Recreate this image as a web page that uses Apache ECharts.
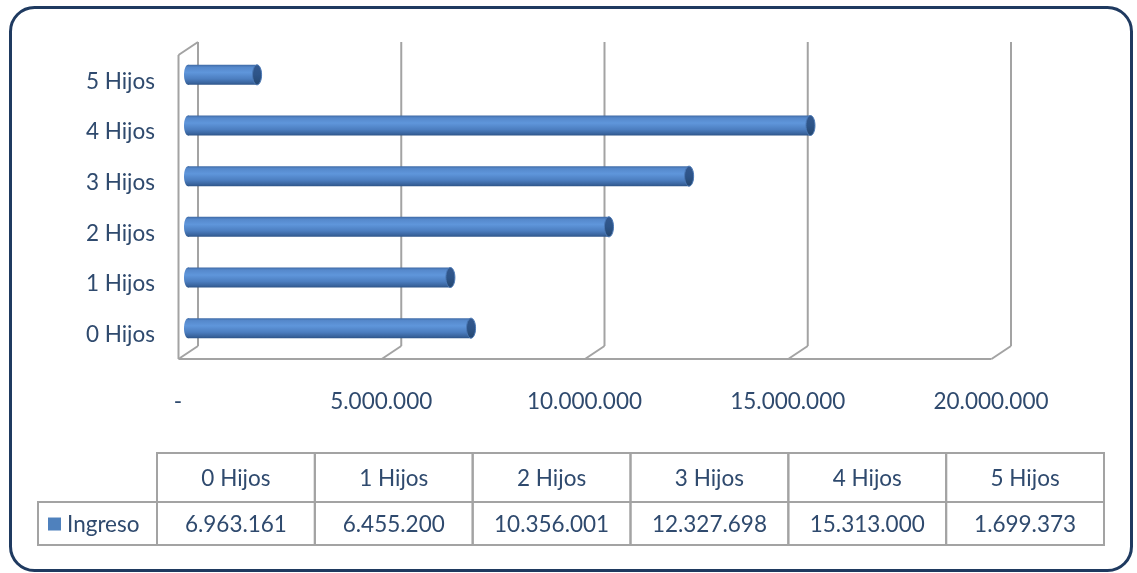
<!DOCTYPE html>
<html>
<head>
<meta charset="utf-8">
<script src="https://cdn.jsdelivr.net/npm/echarts@6/dist/echarts.min.js"></script>
<style>
  html, body { margin: 0; padding: 0; background: #ffffff; }
  #chart { width: 1137px; height: 573px; }
</style>
</head>
<body>
<div id="chart"></div>
<script>
// Income by number of children
const categories = ['0 Hijos', '1 Hijos', '2 Hijos', '3 Hijos', '4 Hijos', '5 Hijos'];
const seriesName = 'Ingreso';
const ingreso = [6963161, 6455200, 10356001, 12327698, 15313000, 1699373];
const xTicks = [0, 5000000, 10000000, 15000000, 20000000];

const TEXT = '#2f4a6e';
const WALL = '#a3a3a3';
const FONT = 'Lato, "Open Sans", sans-serif';
const FS = 22.5;
const DEPTH_X = -19.5;   // front edge of the floor relative to the back wall
const DEPTH_Y = 13;
const BAR_DX = -10;      // bars sit half way into the depth
const BAR_DY = 7.5;
const BAR_R = 10;

function fmt(v) {
  return v === 0 ? '-' : String(v).replace(/\B(?=(\d{3})+(?!\d))/g, '.');
}

const chart = echarts.init(document.getElementById('chart'), null, { renderer: 'canvas' });

// back wall grid lines, floor diagonals and left wall
function renderWalls(params, api) {
  const cs = params.coordSys;
  const v = api.value(0);
  const x = api.coord([v, 0])[0];
  const top = cs.y, bottom = cs.y + cs.height;
  const style = { stroke: WALL, lineWidth: 2, fill: null };
  const children = [
    { type: 'line', shape: { x1: x, y1: top, x2: x, y2: bottom }, style },
    { type: 'line', shape: { x1: x, y1: bottom, x2: x + DEPTH_X, y2: bottom + DEPTH_Y }, style }
  ];
  if (params.dataIndex === 0) {
    const xEnd = api.coord([xTicks[xTicks.length - 1], 0])[0];
    children.push(
      { type: 'line', shape: { x1: x + DEPTH_X, y1: top + DEPTH_Y, x2: x + DEPTH_X, y2: bottom + DEPTH_Y }, style },
      { type: 'line', shape: { x1: x + DEPTH_X, y1: top + DEPTH_Y, x2: x, y2: top }, style },
      { type: 'line', shape: { x1: x + DEPTH_X, y1: bottom + DEPTH_Y, x2: xEnd + DEPTH_X, y2: bottom + DEPTH_Y }, style }
    );
  }
  return { type: 'group', children };
}

// cylinder bars
function renderBar(params, api) {
  const v = api.value(0);
  const idx = api.value(1);
  const p0 = api.coord([0, idx]);
  const p1 = api.coord([v, idx]);
  const x0 = p0[0] + BAR_DX, x1 = p1[0] + BAR_DX, cy = p0[1] + BAR_DY;
  const body = new echarts.graphic.LinearGradient(0, 0, 0, 1, [
    { offset: 0, color: '#3f6aa5' },
    { offset: 0.12, color: '#5588cb' },
    { offset: 0.38, color: '#5f96db' },
    { offset: 0.7, color: '#4c7ec0' },
    { offset: 0.9, color: '#3a659f' },
    { offset: 1, color: '#2d5488' }
  ]);
  const cap = new echarts.graphic.LinearGradient(0, 0, 0, 1, [
    { offset: 0, color: '#34598f' },
    { offset: 0.5, color: '#2d5488' },
    { offset: 1, color: '#24466f' }
  ]);
  return {
    type: 'group',
    children: [
      { type: 'ellipse', shape: { cx: x0, cy: cy, rx: 4, ry: BAR_R }, style: { fill: body } },
      { type: 'rect', shape: { x: x0, y: cy - BAR_R, width: Math.max(0, x1 - x0), height: BAR_R * 2 }, style: { fill: body } },
      { type: 'ellipse', shape: { cx: x1, cy: cy, rx: 4.5, ry: BAR_R }, style: { fill: cap, stroke: '#4b79b6', lineWidth: 1 } }
    ]
  };
}

// data table below the chart
function renderTable(params, api) {
  const cs = params.coordSys;
  const i = api.value(0);
  const cx = api.coord([i, 0])[0];
  const w = api.size([1, 0])[0];
  const left = cx - w / 2;
  const headH = cs.height * 0.533;
  const rowTop = cs.y + headH;
  const rowH = cs.height - headH;
  const border = { stroke: WALL, lineWidth: 2, fill: null };
  const txt = (x, y, text) => ({
    type: 'text', x: x, y: y,
    style: { text: text, fill: TEXT, font: FS + 'px ' + FONT, align: 'center', verticalAlign: 'middle' }
  });
  const children = [
    { type: 'rect', shape: { x: left, y: cs.y, width: w, height: headH }, style: border },
    { type: 'rect', shape: { x: left, y: rowTop, width: w, height: rowH }, style: border },
    txt(cx, cs.y + headH / 2 + 1, categories[i]),
    txt(cx, rowTop + rowH / 2 + 1, fmt(api.value(1)))
  ];
  if (params.dataIndex === 0) {
    const legW = 119;
    children.push(
      { type: 'rect', shape: { x: left - legW, y: rowTop, width: legW, height: rowH }, style: border },
      { type: 'rect', shape: { x: left - legW + 10, y: rowTop + rowH / 2 - 6, width: 13, height: 13 }, style: { fill: '#4f81bd' } },
      { type: 'text', x: left - legW + 29, y: rowTop + rowH / 2 + 1,
        style: { text: seriesName, fill: TEXT, font: FS + 'px ' + FONT, align: 'left', verticalAlign: 'middle' } }
    );
  }
  return { type: 'group', children };
}

chart.setOption({
  animation: false,
  backgroundColor: '#ffffff',
  graphic: [{
    type: 'rect', left: 9, top: 6, z: -10,
    shape: { width: 1121, height: 563, r: 24 },
    style: { fill: '#ffffff', stroke: '#1f3a60', lineWidth: 3 }
  }],
  grid: [
    { left: 198, top: 42, width: 813, height: 304 },
    { left: 157, top: 453, width: 947, height: 92 }
  ],
  xAxis: [
    {
      type: 'value', gridIndex: 0, min: 0, max: 20000000, interval: 5000000,
      axisLine: { show: false }, axisTick: { show: false }, splitLine: { show: false },
      axisLabel: {
        formatter: fmt, color: TEXT, fontSize: FS, fontFamily: FONT,
        margin: 44, padding: [0, 40, 0, 0]
      }
    },
    {
      type: 'category', gridIndex: 1, data: categories, show: false
    }
  ],
  yAxis: [
    {
      type: 'category', gridIndex: 0, data: categories,
      axisLine: { show: false }, axisTick: { show: false }, splitLine: { show: false },
      axisLabel: {
        color: TEXT, fontSize: FS, fontFamily: FONT,
        margin: 43, verticalAlign: 'top', lineHeight: 24, padding: [2, 0, 0, 0]
      }
    },
    {
      type: 'value', gridIndex: 1, min: 0, max: 1, show: false, splitLine: { show: false }
    }
  ],
  series: [
    {
      type: 'custom', name: 'walls', xAxisIndex: 0, yAxisIndex: 0, z: 1,
      renderItem: renderWalls, data: xTicks.map(v => [v]), silent: true
    },
    {
      type: 'custom', name: seriesName, xAxisIndex: 0, yAxisIndex: 0, z: 2,
      renderItem: renderBar, data: ingreso.map((v, i) => [v, i]),
      encode: { x: 0, y: 1 }
    },
    {
      type: 'custom', name: 'tabla', xAxisIndex: 1, yAxisIndex: 1, z: 2,
      renderItem: renderTable, data: ingreso.map((v, i) => [i, v]),
      encode: { x: 0 }, silent: true
    }
  ]
});
</script>
</body>
</html>
